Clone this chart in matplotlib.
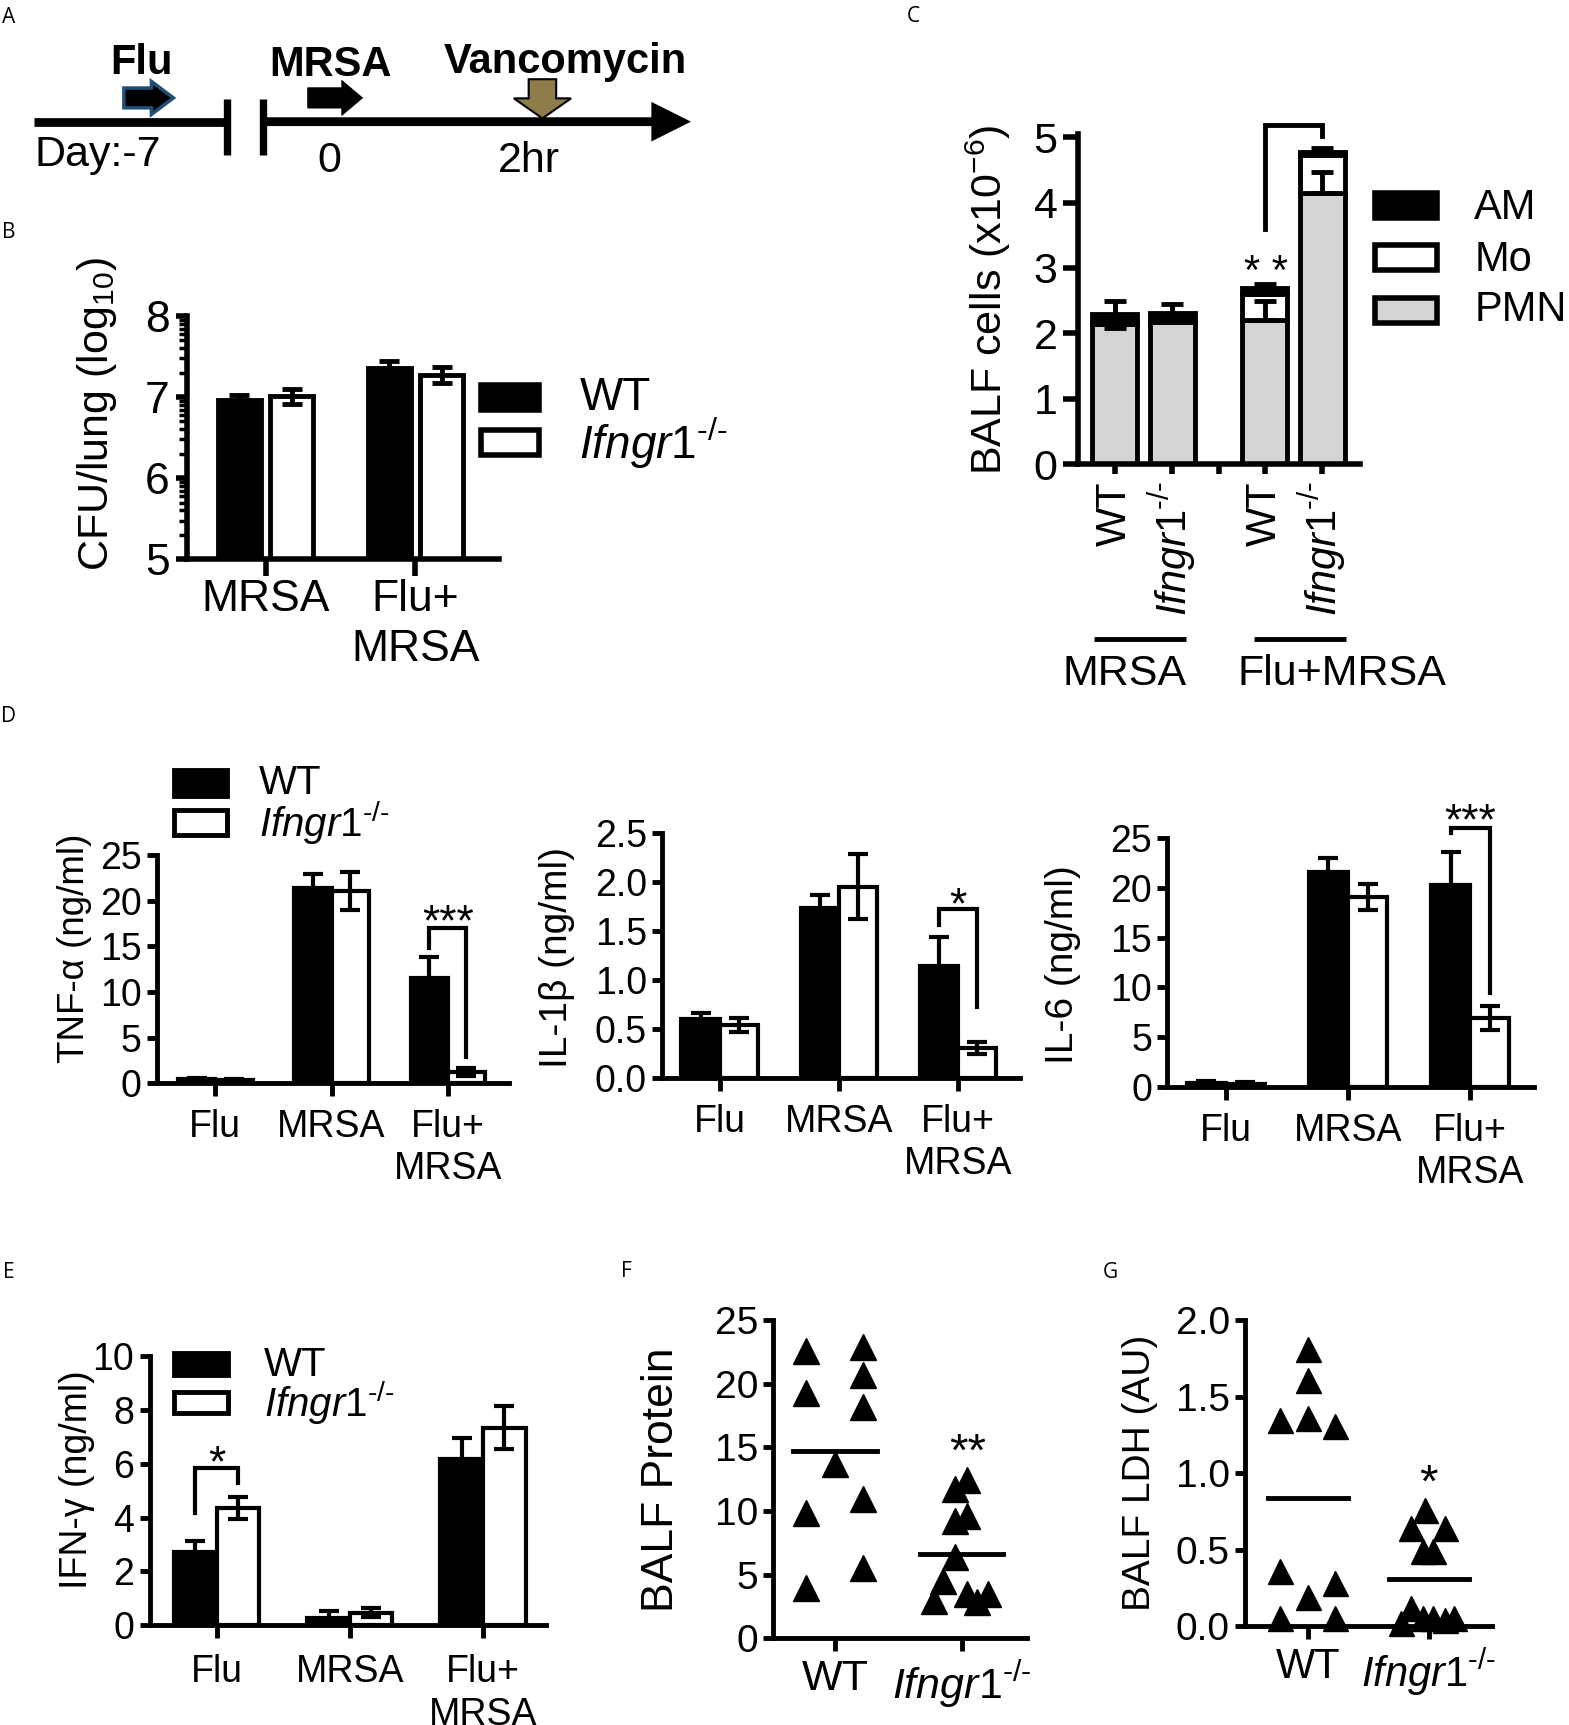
import matplotlib

matplotlib.use("Agg")
import matplotlib.pyplot as plt
from matplotlib.patches import FancyArrow, Rectangle
from matplotlib.ticker import FixedLocator, FormatStrFormatter
import numpy as np

plt.rcParams["font.family"] = ["Liberation Sans", "DejaVu Sans"]
plt.rcParams["mathtext.fontset"] = "custom"
plt.rcParams["mathtext.rm"] = "Liberation Sans"
plt.rcParams["mathtext.it"] = "Liberation Sans:italic"
plt.rcParams["mathtext.bf"] = "Liberation Sans:bold"

# layout grid in reference pixels (scaled to the figure)
W, H = 1426.0, 1568.0

KO = r"$\mathit{Ifngr1}^{\mathit{" + "\u2010/\u2010" + r"}}$"
GENOTYPES = ["WT", KO]

# ---- B: lung CFU
B_GROUPS = ["MRSA", "Flu+\nMRSA"]
B_WT = [6.96, 7.36]
B_WT_SEM = [0.07, 0.08]
B_KO = [7.01, 7.27]
B_KO_SEM = [0.09, 0.10]

# ---- C: BALF cells, stacked PMN / Mo / AM
C_TICKS = ["WT", KO, "", "WT", KO]
C_POS = [0, 1, 1.8, 2.6, 3.6]
C_BAR_POS = [0, 1, 2.6, 3.6]
C_PMN = [2.14, 2.17, 2.20, 4.15]
C_MO = [0.03, 0.03, 0.40, 0.57]
C_AM = [0.12, 0.11, 0.10, 0.06]
C_PMN_SEM = [0.0, 0.0, 0.29, 0.32]
C_TOTAL_SEM = [0.20, 0.14, 0.05, 0.05]
C_CELLS = ["AM", "Mo", "PMN"]

# ---- D / E: cytokines
CYTO_GROUPS = ["Flu", "MRSA", "Flu+\nMRSA"]
TNF_WT = [0.40, 21.4, 11.5]
TNF_WT_SEM = [0.15, 1.6, 2.3]
TNF_KO = [0.30, 21.1, 1.2]
TNF_KO_SEM = [0.15, 2.1, 0.45]
IL1_WT = [0.60, 1.73, 1.14]
IL1_WT_SEM = [0.06, 0.13, 0.30]
IL1_KO = [0.54, 1.95, 0.30]
IL1_KO_SEM = [0.07, 0.33, 0.06]
IL6_WT = [0.40, 21.6, 20.3]
IL6_WT_SEM = [0.15, 1.45, 3.3]
IL6_KO = [0.27, 19.1, 6.9]
IL6_KO_SEM = [0.20, 1.3, 1.2]
IFN_WT = [2.70, 0.25, 6.19]
IFN_WT_SEM = [0.41, 0.27, 0.76]
IFN_KO = [4.36, 0.46, 7.35]
IFN_KO_SEM = [0.40, 0.17, 0.80]

# ---- F / G: individual mice (jitter offset, value)
F_WT_X = [-0.23, -0.23, -0.23, -0.23, 0.22, 0.22, 0.22, 0.22, 0.22, 0.0]
F_WT = [22.6, 19.3, 9.8, 3.9, 22.9, 20.7, 18.2, 10.9, 5.5, 13.7]
F_KO_X = [0.04, -0.05, 0.04, -0.05, -0.05, -0.145, -0.22, 0.04, 0.21, 0.12]
F_KO = [12.4, 11.7, 9.6, 9.2, 6.4, 4.45, 2.9, 3.5, 3.5, 2.8]
G_WT_X = [0.0, 0.0, -0.234, 0.0, 0.22, -0.234, 0.0, 0.22, -0.234, 0.22]
G_WT = [1.81, 1.61, 1.35, 1.36, 1.31, 0.36, 0.19, 0.28, 0.05, 0.05]
G_KO_X = [-0.036, -0.146, 0.13, -0.05, 0.033, -0.146, -0.23, -0.05, 0.033, 0.13, 0.21]
G_KO = [0.76, 0.64, 0.64, 0.49, 0.49, 0.12, 0.02, 0.05, 0.05, 0.04, 0.05]


def add_box(fig, left, right, y_zero, y_top):
    return fig.add_axes(
        [left / W, 1 - y_zero / H, (right - left) / W, (y_zero - y_top) / H]
    )


def style(ax, lw=3.5, ylen=7, xlen=9, size=27, xpad=4):
    for side in ("top", "right"):
        ax.spines[side].set_visible(False)
    for side in ("left", "bottom"):
        ax.spines[side].set_linewidth(lw)
        ax.spines[side].set_capstyle("projecting")
    ax.tick_params(axis="y", length=ylen, width=lw, labelsize=size, pad=4)
    ax.tick_params(axis="x", length=xlen, width=lw, labelsize=size, pad=xpad)
    ax.set_facecolor("none")


def bar_pair(ax, wt, wt_sem, ko, ko_sem, width=0.32, lw=3.0, cap=7):
    x = np.arange(len(wt))
    off = width / 2
    ax.bar(x - off, wt, width, color="black", edgecolor="black", linewidth=lw)
    ax.bar(x + off, ko, width, color="white", edgecolor="black", linewidth=lw)
    for xs, ys, es in ((x - off, wt, wt_sem), (x + off, ko, ko_sem)):
        ax.errorbar(xs, ys, yerr=es, fmt="none", ecolor="black",
                    elinewidth=lw, capsize=cap, capthick=lw)


def bracket(ax, x1, x2, y1, y_top, y2, lw=3.0):
    ax.plot([x1, x1, x2, x2], [y1, y_top, y_top, y2], color="black",
            linewidth=lw, solid_joinstyle="miter", clip_on=False)


def stars(ax, x, y, s, fs=32):
    # centre the asterisk glyphs (which sit high in the em box) on (x, y)
    ax.annotate(s, (x, y), xytext=(0, -0.5 * fs), textcoords="offset points",
                ha="center", va="baseline", fontsize=fs, annotation_clip=False)


fig = plt.figure(figsize=(15.69, 17.25), dpi=100)
ov = fig.add_axes([0, 0, 1, 1], zorder=5)
ov.set_xlim(0, W)
ov.set_ylim(H, 0)
ov.axis("off")

# panel letters
for letter, lx, ly in [("A", 8, 16), ("B", 8, 211), ("C", 830, 15), ("D", 8, 651),
                       ("E", 8, 1157), ("F", 569, 1156), ("G", 1009, 1157)]:
    ov.text(lx, ly, letter, fontsize=15, family=["Open Sans", "DejaVu Sans"],
            ha="center", va="center")

# ---------------- A: timeline
ov.plot([31, 206.5], [110.6, 110.6], color="black", lw=6.3, solid_capstyle="butt")
for bx in (206.5, 238.7):
    ov.plot([bx, bx], [90, 141], color="black", lw=5.3, solid_capstyle="butt")
ov.add_patch(FancyArrow(238.7, 110.6, 628 - 238.7, 0, width=8, head_width=36,
                        head_length=36, length_includes_head=True, color="black", lw=0))
ov.add_patch(FancyArrow(112.6, 89, 45, 0, width=18, head_width=30, head_length=20,
                        length_includes_head=True, fc="black", ec="#1f4e79", lw=2.5))
ov.add_patch(FancyArrow(279.6, 89, 50, 0, width=18.5, head_width=32, head_length=19,
                        length_includes_head=True, fc="black", ec="black", lw=0.5))
ov.add_patch(FancyArrow(493, 72, 0, 35.6, width=25, head_width=52, head_length=18.2,
                        length_includes_head=True, fc="#8c7d4b", ec="black", lw=1.5))
for txt, tx, ty in [("Flu", 129, 57.5), ("MRSA", 300.5, 59), ("Vancomycin", 514, 56.5)]:
    ov.text(tx, ty, txt, fontsize=30, fontweight="bold", ha="center", va="center")
for txt, tx, ty in [("Day:-7", 89, 141), ("0", 299, 146), ("2hr", 481, 146)]:
    ov.text(tx, ty, txt, fontsize=31, ha="center", va="center")

# ---------------- B: CFU
axb = add_box(fig, 169.6, 453.8, 508.4, 287.2)
style(axb, lw=4, ylen=8, xlen=12, size=32, xpad=2)
xb = np.arange(len(B_GROUPS))
axb.bar(xb - 0.175, B_WT, 0.285, color="black", edgecolor="black", linewidth=3.5)
axb.bar(xb + 0.175, B_KO, 0.285, color="white", edgecolor="black", linewidth=3.5)
axb.errorbar(xb - 0.175, B_WT, yerr=B_WT_SEM, fmt="none", ecolor="black",
             elinewidth=3.5, capsize=7, capthick=3.5)
axb.errorbar(xb + 0.175, B_KO, yerr=B_KO_SEM, fmt="none", ecolor="black",
             elinewidth=3.5, capsize=7, capthick=3.5)
axb.set_ylim(5, 8)
axb.set_xlim(-0.527, 1.56)
axb.set_yticks([5, 6, 7, 8])
axb.yaxis.set_minor_locator(FixedLocator(
    [d + np.log10(k) for d in (5, 6, 7) for k in range(2, 10)]))
axb.tick_params(axis="y", which="minor", length=6, width=2.5)
axb.set_xticks(xb)
axb.set_xticklabels(B_GROUPS, linespacing=1.3)
ov.text(88, 376, r"CFU/lung (log$_{10}$)", fontsize=31, rotation=90,
        ha="center", va="center")
for (y0, y1), face, name, ty in [((350, 372.6), "black", GENOTYPES[0], 362),
                                 ((391, 413.5), "white", GENOTYPES[1], 403)]:
    ov.add_patch(Rectangle((437, y0), 53, y1 - y0, fc=face, ec="black", lw=4))
    ov.text(526.5, ty, name, fontsize=33, ha="left", va="center")

# ---------------- C: BALF cells
axc = add_box(fig, 980, 1236, 422, 121.7)
style(axc, lw=4, ylen=11, xlen=7, size=31, xpad=5)
pmn = np.array(C_PMN)
mo = np.array(C_MO)
am = np.array(C_AM)
axc.bar(C_BAR_POS, pmn, 0.78, color="#d4d4d4", edgecolor="black", linewidth=3.5)
axc.bar(C_BAR_POS, mo, 0.78, bottom=pmn, color="white", edgecolor="black", linewidth=3.5)
axc.bar(C_BAR_POS, am, 0.78, bottom=pmn + mo, color="black", edgecolor="black", linewidth=3.5)
has_err = np.array(C_PMN_SEM) > 0
up_only = np.vstack([np.zeros(has_err.sum()), np.array(C_PMN_SEM)[has_err]])
axc.errorbar(np.array(C_BAR_POS)[has_err], pmn[has_err], yerr=up_only,
             fmt="none", ecolor="black", elinewidth=3.5, capsize=8, capthick=3.5)
axc.errorbar(C_BAR_POS, pmn + mo + am, yerr=C_TOTAL_SEM, fmt="none", ecolor="black",
             elinewidth=3.5, capsize=8, capthick=3.5)
axc.set_ylim(0, 5.05)
axc.set_xlim(-0.63, 4.25)
axc.set_yticks(range(6))
axc.set_xticks(C_POS)
axc.set_xticklabels(C_TICKS, rotation=90, fontsize=30)
bracket(axc, 2.6, 3.6, 3.59, 5.19, 5.02, lw=3.5)
stars(axc, 2.62, 3.08, "* *", fs=30)
ov.text(898, 272, r"BALF cells (x10$^{-6}$)", fontsize=31, rotation=90,
        ha="center", va="center")
for x0, x1 in [(994, 1078), (1139.5, 1223.7)]:
    ov.plot([x0, x1], [581, 581], color="black", lw=3.5, solid_capstyle="butt")
ov.text(1022, 613, "MRSA", fontsize=31, ha="center", va="center")
ov.text(1220, 613, "Flu+MRSA", fontsize=31, ha="center", va="center")
for (y0, y1), face, name, ty in [((175, 198), "black", C_CELLS[0], 188.7),
                                 ((223, 245.5), "white", C_CELLS[1], 236.5),
                                 ((271, 294), "#d4d4d4", C_CELLS[2], 282)]:
    ov.add_patch(Rectangle((1250, y0), 56, y1 - y0, fc=face, ec="black", lw=4))
    ov.text(1340, ty, name, fontsize=30, ha="left", va="center")

# ---------------- D: TNF, IL-1b, IL-6
cyto = [
    ((142.4, 463, 984.5, 777.5), TNF_WT, TNF_WT_SEM, TNF_KO, TNF_KO_SEM, 25, range(0, 26, 5),
     (-0.505, 2.53), "TNF-α (ng/ml)", (67.5, 862), 26.5),
    ((602, 927, 979.6, 757), IL1_WT, IL1_WT_SEM, IL1_KO, IL1_KO_SEM, 2.5,
     np.arange(0, 2.51, 0.5), (-0.48, 2.52), "IL-1β (ng/ml)", (506, 870), 28),
    ((1061, 1394, 987.8, 762), IL6_WT, IL6_WT_SEM, IL6_KO, IL6_KO_SEM, 25, range(0, 26, 5),
     (-0.477, 2.52), "IL-6 (ng/ml)", (966, 877), 28),
]
d_axes = []
for box, wt, wts, ko, kos, top, ticks, xlim, label, (lx, ly), lfs in cyto:
    ax = add_box(fig, *box)
    style(ax, xpad=10)
    bar_pair(ax, wt, wts, ko, kos)
    ax.set_ylim(0, top)
    ax.set_xlim(*xlim)
    ax.set_yticks(ticks)
    ax.set_xticks(range(len(CYTO_GROUPS)))
    ax.set_xticklabels(CYTO_GROUPS, linespacing=1.2)
    ov.text(lx, ly, label, fontsize=lfs, rotation=90, ha="center", va="center")
    d_axes.append(ax)
d_axes[1].yaxis.set_major_formatter(FormatStrFormatter("%.1f"))
bracket(d_axes[0], 1.84, 2.16, 14.85, 17.05, 2.9)
stars(d_axes[0], 2.0, 18.7, "***")
bracket(d_axes[1], 1.84, 2.16, 1.56, 1.72, 0.72)
stars(d_axes[1], 2.0, 1.85, "*")
bracket(d_axes[2], 1.84, 2.16, 25.5, 26.0, 9.4)
stars(d_axes[2], 2.0, 27.6, "***")
for (y0, y1), face, name, ty in [((700, 724), "black", GENOTYPES[0], 712),
                                 ((736, 759), "white", GENOTYPES[1], 748)]:
    ov.add_patch(Rectangle((158, y0), 48, y1 - y0, fc=face, ec="black", lw=3.5))
    ov.text(235, ty, name, fontsize=29, ha="left", va="center")

# ---------------- E: IFN-g
axe = add_box(fig, 136, 496.6, 1477, 1233)
style(axe, xpad=12)
bar_pair(axe, IFN_WT, IFN_WT_SEM, IFN_KO, IFN_KO_SEM)
axe.set_ylim(0, 10)
axe.set_xlim(-0.504, 2.476)
axe.set_yticks(range(0, 11, 2))
axe.set_xticks(range(len(CYTO_GROUPS)))
axe.set_xticklabels(CYTO_GROUPS, linespacing=1.25)
bracket(axe, -0.16, 0.16, 4.17, 5.83, 5.29)
stars(axe, 0.0, 6.35, "*")
ov.text(70, 1345, "IFN-γ (ng/ml)", fontsize=27, rotation=90, ha="center", va="center")
for (y0, y1), face, name, ty in [((1230, 1249.7), "black", GENOTYPES[0], 1240.6),
                                 ((1265, 1284), "white", GENOTYPES[1], 1275)]:
    ov.add_patch(Rectangle((158, y0), 49, y1 - y0, fc=face, ec="black", lw=3.5))
    ov.text(240, ty, name, fontsize=29, ha="left", va="center")

# ---------------- F / G: scatter with means
scatter = [
    ((702.7, 933, 1489, 1200), F_WT_X, F_WT, F_KO_X, F_KO, 25, range(0, 26, 5),
     (-0.49, 1.513), "BALF Protein", (601, 1345), 32, 19, "%d", 31),
    ((1131.5, 1355.7, 1478, 1200), G_WT_X, G_WT, G_KO_X, G_KO, 2.0,
     np.arange(0, 2.01, 0.5), (-0.524, 1.52), "BALF LDH (AU)", (1036, 1339), 28, 18, "%.1f", 30),
]
fg_axes = []
for box, wx, wy, kx, ky, top, ticks, xlim, label, (lx, ly), lfs, ms, fmt, xfs in scatter:
    ax = add_box(fig, *box)
    style(ax, size=28, xpad=6)
    for i, (xs, ys) in enumerate(((wx, wy), (kx, ky))):
        ax.plot(i + np.array(xs), ys, linestyle="none", marker="^", ms=ms,
                color="black", clip_on=False)
        ax.plot([i - 0.33, i + 0.33], [np.mean(ys)] * 2, color="black", lw=3.5)
    ax.set_ylim(0, top)
    ax.set_xlim(*xlim)
    ax.set_yticks(ticks)
    ax.yaxis.set_major_formatter(FormatStrFormatter(fmt))
    ax.set_xticks([0, 1])
    ax.set_xticklabels(GENOTYPES, fontsize=xfs)
    ov.text(lx, ly, label, fontsize=lfs, rotation=90, ha="center", va="center")
    fg_axes.append(ax)
stars(fg_axes[0], 1.05, 15.4, "**", fs=34)
stars(fg_axes[1], 1.0, 1.0, "*", fs=34)

fig.savefig("out.png", dpi=100)
